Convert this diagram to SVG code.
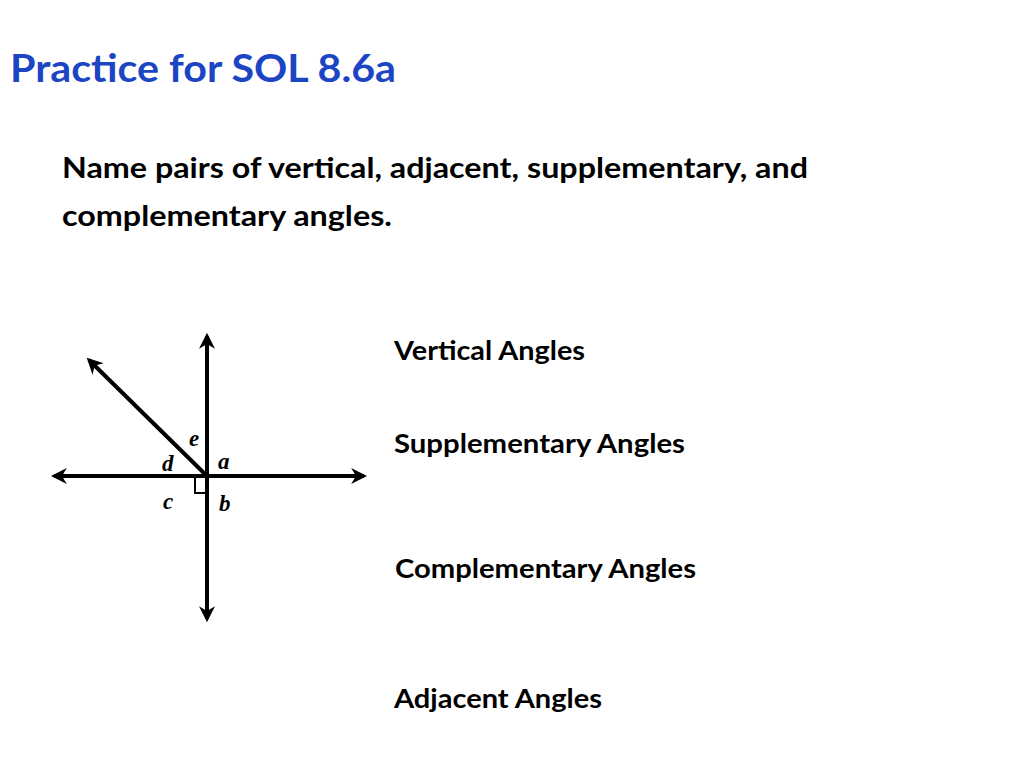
<svg xmlns="http://www.w3.org/2000/svg" width="1024" height="768" viewBox="0 0 1024 768">
<style>
.t{font-family:Lato,"Liberation Sans",sans-serif;font-weight:bold;fill:#000}
.l{font-family:"Liberation Serif",serif;font-weight:bold;font-style:italic;font-size:23px}
.ln{stroke:#000;stroke-width:4;fill:none}
</style>
<defs>
<marker id="ah" viewBox="0 0 10 10" refX="8" refY="5" markerWidth="4" markerHeight="4" orient="auto-start-reverse" markerUnits="strokeWidth">
<path d="M0,0 L10,5 L0,10 L3,5 Z" fill="#000"/></marker>
</defs>
<rect width="1024" height="768" fill="#fff"/>
<text x="10" y="82" font-family="Lato,'Liberation Sans',sans-serif" font-weight="bold" font-size="39" fill="#1c45c4" textLength="386" lengthAdjust="spacingAndGlyphs">Practice for SOL 8.6a</text>
<text class="t" x="62" y="178" font-size="29" textLength="746" lengthAdjust="spacingAndGlyphs">Name pairs of vertical, adjacent, supplementary, and</text>
<text class="t" x="62" y="226" font-size="29" textLength="330" lengthAdjust="spacingAndGlyphs">complementary angles.</text>
<g id="connectors">
<line class="ln" x1="207" y1="336" x2="207" y2="619" marker-start="url(#ah)" marker-end="url(#ah)"/>
<line class="ln" x1="54" y1="476" x2="364" y2="476" marker-start="url(#ah)" marker-end="url(#ah)"/>
<line class="ln" x1="207" y1="476" x2="89" y2="360" stroke-width="3" marker-end="url(#ah)"/>
<path d="M195,476 V493 H207" stroke="#000" stroke-width="2" fill="none"/>
</g>
<g id="labels">
<text class="l" x="189" y="446">e</text>
<text class="l" x="162" y="471">d</text>
<text class="l" x="218" y="469">a</text>
<text class="l" x="163" y="509">c</text>
<text class="l" x="219" y="511">b</text>
</g>
<text class="t" x="394" y="360" font-size="27" textLength="191" lengthAdjust="spacingAndGlyphs">Vertical Angles</text>
<text class="t" x="394" y="453" font-size="27" textLength="291" lengthAdjust="spacingAndGlyphs">Supplementary Angles</text>
<text class="t" x="395" y="578" font-size="27" textLength="301" lengthAdjust="spacingAndGlyphs">Complementary Angles</text>
<text class="t" x="394" y="708" font-size="27" textLength="208" lengthAdjust="spacingAndGlyphs">Adjacent Angles</text>
</svg>
